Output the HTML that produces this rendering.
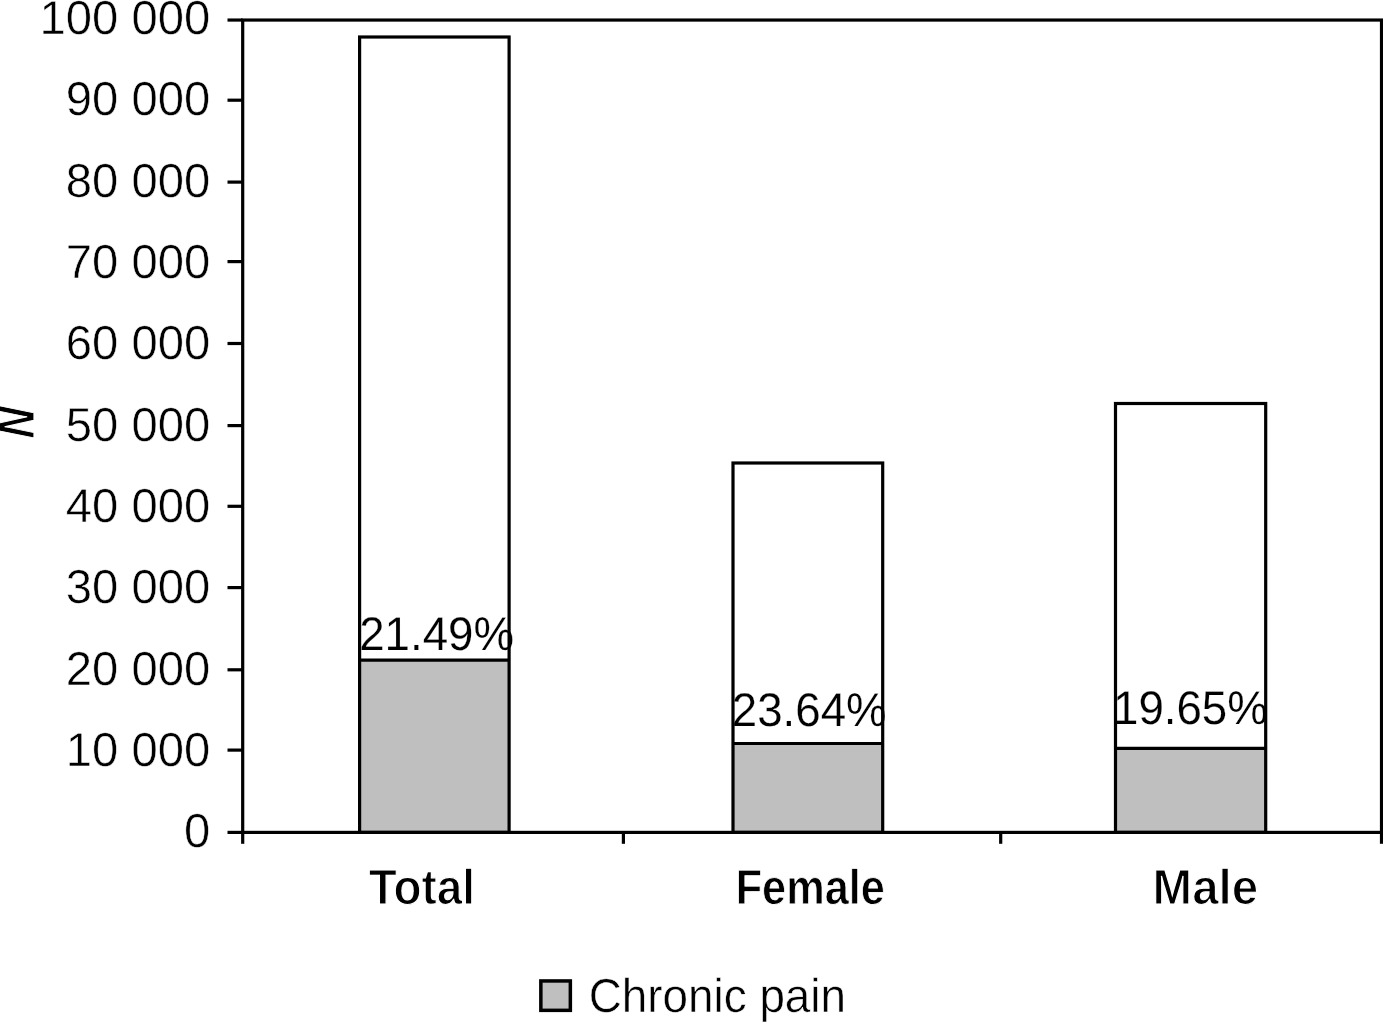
<!DOCTYPE html>
<html lang="en">
<head>
<meta charset="utf-8">
<title>Chronic pain chart</title>
<style>
html,body{margin:0;padding:0;background:#fff;}
body{width:1383px;height:1024px;overflow:hidden;}
svg{display:block;}
svg text{font-family:"Liberation Sans", sans-serif;fill:#000;white-space:pre;text-rendering:geometricPrecision;vector-effect:non-scaling-stroke;}
</style>
</head>
<body>
<svg width="1383" height="1024" viewBox="0 0 1383 1024">
<rect x="0" y="0" width="1383" height="1024" fill="#fff"/>
<g stroke="none">
<rect x="359.60" y="37.00" width="149.50" height="623.10" fill="#fff"/>
<rect x="359.60" y="660.10" width="149.50" height="172.30" fill="#bfbfbf"/>
<rect x="733.00" y="463.00" width="149.70" height="280.50" fill="#fff"/>
<rect x="733.00" y="743.50" width="149.70" height="88.90" fill="#bfbfbf"/>
<rect x="1115.50" y="403.50" width="150.20" height="344.80" fill="#fff"/>
<rect x="1115.50" y="748.30" width="150.20" height="84.10" fill="#bfbfbf"/>
</g>
<g>
<text transform="translate(39.52 33.82) scale(0.9920 1)" font-size="47.6" stroke="#fff" stroke-width="0.5" stroke-linejoin="miter">100 000</text>
<text transform="translate(65.79 115.17) scale(0.9920 1)" font-size="47.6" stroke="#fff" stroke-width="0.5" stroke-linejoin="miter">90 000</text>
<text transform="translate(65.79 196.55) scale(0.9920 1)" font-size="47.6" stroke="#fff" stroke-width="0.5" stroke-linejoin="miter">80 000</text>
<text transform="translate(65.79 277.91) scale(0.9920 1)" font-size="47.6" stroke="#fff" stroke-width="0.5" stroke-linejoin="miter">70 000</text>
<text transform="translate(65.79 359.28) scale(0.9920 1)" font-size="47.6" stroke="#fff" stroke-width="0.5" stroke-linejoin="miter">60 000</text>
<text transform="translate(65.79 440.64) scale(0.9920 1)" font-size="47.6" stroke="#fff" stroke-width="0.5" stroke-linejoin="miter">50 000</text>
<text transform="translate(65.79 522.01) scale(0.9920 1)" font-size="47.6" stroke="#fff" stroke-width="0.5" stroke-linejoin="miter">40 000</text>
<text transform="translate(65.79 603.37) scale(0.9920 1)" font-size="47.6" stroke="#fff" stroke-width="0.5" stroke-linejoin="miter">30 000</text>
<text transform="translate(65.79 684.74) scale(0.9920 1)" font-size="47.6" stroke="#fff" stroke-width="0.5" stroke-linejoin="miter">20 000</text>
<text transform="translate(65.79 766.10) scale(0.9920 1)" font-size="47.6" stroke="#fff" stroke-width="0.5" stroke-linejoin="miter">10 000</text>
<text transform="translate(183.91 847.48) scale(0.9920 1)" font-size="47.6" stroke="#fff" stroke-width="0.5" stroke-linejoin="miter">0</text>
<text transform="translate(359.17 650.14) scale(0.9676 1)" font-size="47.2" stroke="#fff" stroke-width="0.2" stroke-linejoin="miter">21.49%</text>
<text transform="translate(731.77 725.84) scale(0.9676 1)" font-size="47.2" stroke="#fff" stroke-width="0.2" stroke-linejoin="miter">23.64%</text>
<text transform="translate(1113.00 723.73) scale(0.9676 1)" font-size="47.2" stroke="#fff" stroke-width="0.2" stroke-linejoin="miter">19.65%</text>
<text transform="translate(368.78 904.25) scale(0.9280 1)" font-size="49.5" font-weight="bold" stroke="#fff" stroke-width="1.2" stroke-linejoin="miter">Total</text>
<text transform="translate(735.68 904.20) scale(0.8813 1)" font-size="49.1" font-weight="bold" stroke="#fff" stroke-width="0.8" stroke-linejoin="miter">Female</text>
<text transform="translate(1152.59 904.25) scale(0.9588 1)" font-size="49.5" font-weight="bold" stroke="#fff" stroke-width="1.2" stroke-linejoin="miter">Male</text>
<text transform="translate(588.73 1011.80) scale(0.9629 1)" font-size="47.6" stroke="#fff" stroke-width="0.5" stroke-linejoin="miter">Chronic pain</text>
<text transform="translate(33.99 438.84) rotate(-90) scale(0.8067 1) skewX(-3.3)" font-size="53" font-weight="bold" font-style="italic" stroke="#fff" stroke-width="1.1" stroke-linejoin="miter">N</text>
</g>
<g stroke="#000" stroke-width="3.2" fill="none" stroke-linecap="butt" stroke-linejoin="miter">
<rect x="359.60" y="37.00" width="149.50" height="795.40"/>
<line x1="359.60" y1="660.10" x2="509.10" y2="660.10"/>
<rect x="733.00" y="463.00" width="149.70" height="369.40"/>
<line x1="733.00" y1="743.50" x2="882.70" y2="743.50"/>
<rect x="1115.50" y="403.50" width="150.20" height="428.90"/>
<line x1="1115.50" y1="748.30" x2="1265.70" y2="748.30"/>
<rect x="242.70" y="20.05" width="1138.80" height="812.35"/>
<line x1="227.50" y1="20.05" x2="242.70" y2="20.05"/>
<line x1="227.50" y1="100.20" x2="242.70" y2="100.20"/>
<line x1="227.50" y1="182.10" x2="242.70" y2="182.10"/>
<line x1="227.50" y1="261.60" x2="242.70" y2="261.60"/>
<line x1="227.50" y1="343.50" x2="242.70" y2="343.50"/>
<line x1="227.50" y1="425.60" x2="242.70" y2="425.60"/>
<line x1="227.50" y1="506.30" x2="242.70" y2="506.30"/>
<line x1="227.50" y1="587.60" x2="242.70" y2="587.60"/>
<line x1="227.50" y1="669.80" x2="242.70" y2="669.80"/>
<line x1="227.50" y1="750.10" x2="242.70" y2="750.10"/>
<line x1="227.50" y1="832.40" x2="242.70" y2="832.40"/>
<line x1="242.70" y1="832.40" x2="242.70" y2="843.80"/>
<line x1="623.40" y1="832.40" x2="623.40" y2="843.80"/>
<line x1="1000.70" y1="832.40" x2="1000.70" y2="843.80"/>
<line x1="1381.50" y1="832.40" x2="1381.50" y2="843.80"/>
</g>
<rect x="540.85" y="980.95" width="29.50" height="29.40" fill="#bfbfbf" stroke="#000" stroke-width="3.5"/>
</svg>
</body>
</html>
